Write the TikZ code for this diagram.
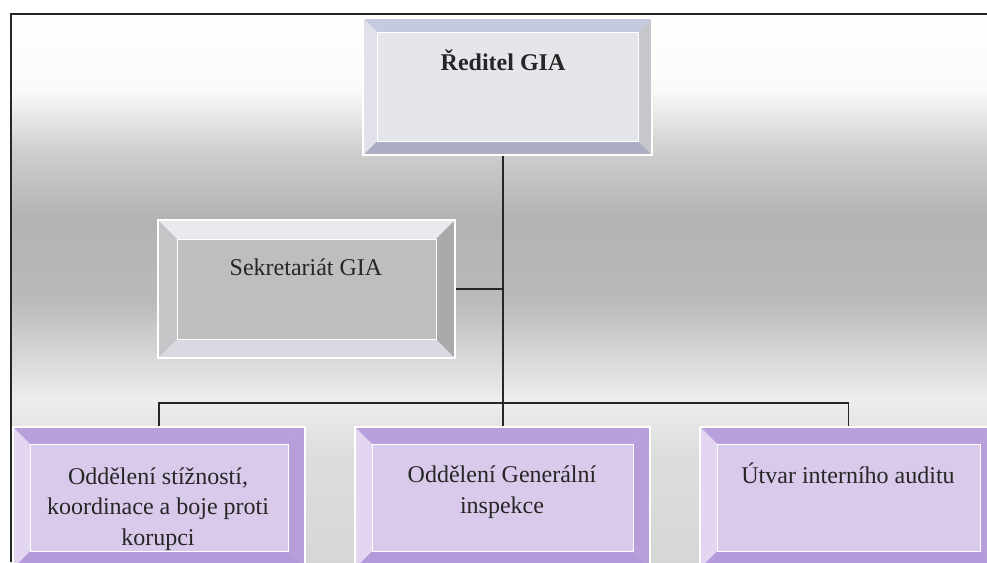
\documentclass[tikz,border=0pt]{standalone}
\usepackage{fontspec}
\setmainfont{Liberation Serif}
\usetikzlibrary{calc}
\definecolor{Gface}{HTML}{E5E6EC}
\definecolor{Gtop}{HTML}{C6CADF}
\definecolor{Gleft}{HTML}{E0E1E9}
\definecolor{Gright}{HTML}{C6C7CD}
\definecolor{Gbot}{HTML}{ABAEC2}
\definecolor{Sface}{HTML}{BEBEBE}
\definecolor{Stop}{HTML}{E9E9EE}
\definecolor{Sleft}{HTML}{C6C6C9}
\definecolor{Sright}{HTML}{A9A9AC}
\definecolor{Sbot}{HTML}{D8D9E1}
\definecolor{Pface}{HTML}{D9CAEC}
\definecolor{Ptop}{HTML}{B9A0DC}
\definecolor{Pleft}{HTML}{E2D6F1}
\definecolor{Pright}{HTML}{B79ED9}
\definecolor{Pbot}{HTML}{B49ADA}
\pgfdeclareverticalshading{bgshade}{100bp}{%
 rgb(0bp)=(0.84,0.84,0.84); rgb(25bp)=(0.84,0.84,0.84);
 rgb(35.2bp)=(0.87,0.87,0.87); rgb(39.8bp)=(0.93,0.93,0.93);
 rgb(43.5bp)=(0.85,0.85,0.85); rgb(48.9bp)=(0.73,0.73,0.73);
 rgb(56.2bp)=(0.70,0.70,0.70); rgb(62.5bp)=(0.81,0.81,0.81);
 rgb(68bp)=(0.98,0.98,0.98); rgb(75bp)=(1,1,1); rgb(100bp)=(1,1,1)}
\newcommand\bevelize[3]{%
 \fill[#3top] (#1.north west) -- (#1.north east) -- ([xshift=-#2pt,yshift=-#2pt]#1.north east) -- ([xshift=#2pt,yshift=-#2pt]#1.north west) -- cycle;
 \fill[#3bot] (#1.south west) -- (#1.south east) -- ([xshift=-#2pt,yshift=#2pt]#1.south east) -- ([xshift=#2pt,yshift=#2pt]#1.south west) -- cycle;
 \fill[#3left] (#1.north west) -- (#1.south west) -- ([xshift=#2pt,yshift=#2pt]#1.south west) -- ([xshift=#2pt,yshift=-#2pt]#1.north west) -- cycle;
 \fill[#3right] (#1.north east) -- (#1.south east) -- ([xshift=-#2pt,yshift=#2pt]#1.south east) -- ([xshift=-#2pt,yshift=-#2pt]#1.north east) -- cycle;
 \draw[white, line width=1pt] ([xshift=#2pt,yshift=-#2pt]#1.north west) rectangle ([xshift=-#2pt,yshift=#2pt]#1.south east);
 \draw[white, line width=1.2pt] (#1.north west) rectangle (#1.south east);
}
\tikzset{
 box/.style={rectangle, inner sep=0pt, outer sep=0pt},
 txt/.style={anchor=base, inner sep=0pt, align=center, text=black!85,
   font=\fontsize{24}{30.5}\selectfont},
 conn/.style={draw=black!85, line width=1.5pt},
}
\begin{document}
\begin{tikzpicture}[x=1pt,y=-1pt]
\useasboundingbox (0,0) rectangle (987,562);
\clip (0,0) rectangle (987,562);
\fill[white] (0,0) rectangle (987,562);
\shade[shading=bgshade] (11,14) rectangle (987,562);
\draw[line width=1.5pt, black!85] (11,562) -- (11,14) -- (990,14);

\node[box, fill=Gface, minimum width=289pt, minimum height=137pt] (R) at (507.5,86.5) {};
\node[box, fill=Sface, minimum width=297pt, minimum height=138pt] (S) at (306.5,289) {};
\node[box, fill=Pface, minimum width=292pt, minimum height=141pt] (P1) at (159,497.5) {};
\node[box, fill=Pface, minimum width=295pt, minimum height=141pt] (P2) at (502.5,497.5) {};
\node[box, fill=Pface, minimum width=297pt, minimum height=141pt] (P3) at (848.5,497.5) {};
\coordinate (j) at (503,403);

\draw[conn] (R.south -| j) -- (j);
\draw[conn] (P1.north) -- (P1.north |- j) -- (P3.north |- j) -- (P3.north);
\draw[conn] (j) -- (P2.north -| j);
\draw[conn] (S.east) -- (S.east -| j);

\bevelize{R}{14}{G}
\bevelize{S}{19}{S}
\bevelize{P1}{17}{P}
\bevelize{P2}{17}{P}
\bevelize{P3}{17}{P}

\node[txt, font=\fontsize{24}{30.5}\selectfont\bfseries] (Rt) at (503,70) {Ředitel GIA};
\node[txt] (St) at (306,275) {Sekretariát GIA};
\node[txt] (P1t) at (158,545) {Oddělení stížností,\\koordinace a boje proti\\korupci};
\node[txt] (P2t) at (502,513) {Oddělení Generální\\inspekce};
\node[txt] (P3t) at (848,483) {Útvar interního auditu};
\end{tikzpicture}
\end{document}
